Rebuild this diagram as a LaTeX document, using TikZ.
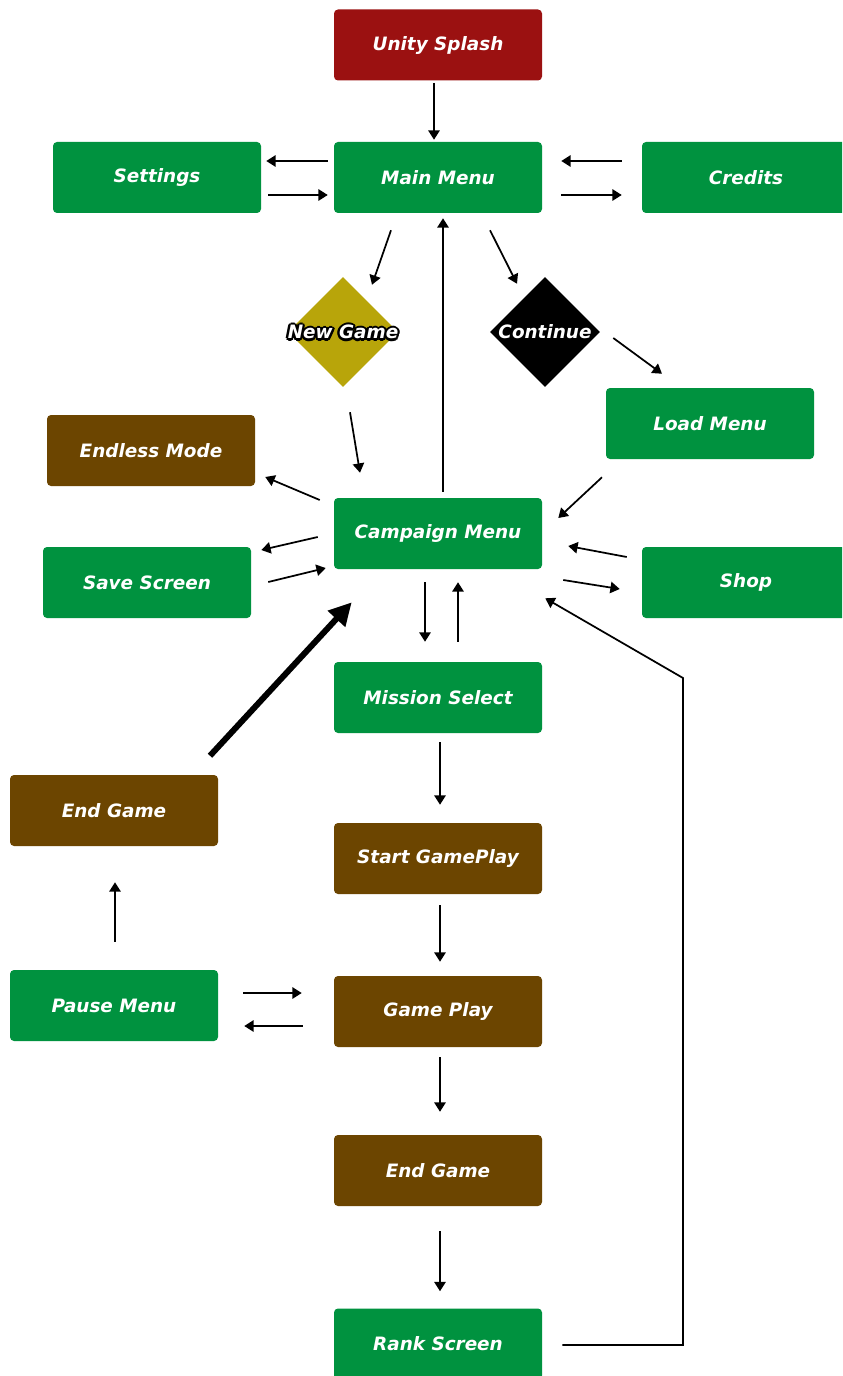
\documentclass[tikz,border=0pt]{standalone}
\usepackage{fontspec}
\setmainfont{DejaVu Sans}
\usetikzlibrary{shapes.geometric,arrows.meta,calc}
\definecolor{cred}{RGB}{155,17,17}
\definecolor{cgreen}{RGB}{0,146,63}
\definecolor{cbrown}{RGB}{108,69,0}
\definecolor{colive}{RGB}{184,165,10}
\tikzset{
  box/.style={rectangle, rounded corners=3pt, minimum width=156pt, minimum height=53.25pt, inner sep=0pt, text=white, font=\fontsize{13.8}{16}\selectfont\bfseries\itshape},
  gbox/.style={box, fill=cgreen},
  bbox/.style={box, fill=cbrown},
  rbox/.style={box, fill=cred},
  dia/.style={diamond, minimum width=82.5pt, minimum height=82.5pt, inner sep=0pt},
  lbl/.style={font=\fontsize{13.8}{16}\selectfont\bfseries\itshape, inner sep=0pt},
  arr/.style={line width=1.3pt, -{Triangle[length=7pt,width=8.5pt]}},
  thickarr/.style={line width=4.5pt, -{Triangle[length=17pt,width=17pt]}}
}
\begin{document}
\begin{tikzpicture}[x=0.75pt,y=-0.75pt]
\useasboundingbox (0,0) rectangle (842,1376);
\clip (0,0) rectangle (842,1376);
\fill[white] (0,0) rectangle (842,1376);
% nodes
\node[rbox] (unity) at (438,45) {Unity Splash};
\node[gbox] (main) at (438,177.5) {Main Menu};
\node[gbox] (settings) at (157,177.5) {Settings};
\node[gbox] (credits) at (746,177.5) {Credits};
\node[dia, fill=colive] (newgame) at (343,332) {};
\node[dia, fill=black] (continue) at (545,332) {};
\node[gbox] (load) at (710,423.5) {Load Menu};
\node[bbox] (endless) at (151,450.5) {Endless Mode};
\node[gbox] (campaign) at (438,533.5) {Campaign Menu};
\node[gbox] (save) at (147,582.5) {Save Screen};
\node[gbox] (shop) at (746,582.5) {Shop};
\node[gbox] (mission) at (438,697.5) {Mission Select};
\node[bbox] (endL) at (114,810.5) {End Game};
\node[bbox] (start) at (438,858.5) {Start GamePlay};
\node[gbox] (pause) at (114,1005.5) {Pause Menu};
\node[bbox] (gameplay) at (438,1011.5) {Game Play};
\node[bbox] (endG) at (438,1170.5) {End Game};
\node[gbox] (rank) at (438,1344) {Rank Screen};
% diamond labels (outlined text)
\foreach \a in {0,45,...,315} {
  \node[lbl, text=black] (ngo\a) at ($(newgame)+(\a:2.4)$) {New Game};
}
\node[lbl, text=white] (ngtext) at (newgame) {New Game};
\node[lbl, text=white] (cotext) at (continue) {Continue};
% arrows
\draw[arr] ($(unity.south)+(-4,2)$) -- ($(main.north)+(-4,-2)$);
\draw[arr] ($(main.west)+(-6,-16.5)$) -- ($(settings.east)+(5,-16.5)$);
\draw[arr] ($(settings.east)+(7,17.5)$) -- ($(main.west)+(-6,17.5)$);
\draw[arr] ($(credits.west)+(-20,-16.5)$) -- ($(main.east)+(19,-16.5)$);
\draw[arr] ($(main.east)+(19,17.5)$) -- ($(credits.west)+(-20,17.5)$);
\draw[arr] ($(main.south)+(-47,17)$) -- ($(newgame.north)+(29,8)$);
\draw[arr] ($(main.south)+(52,17)$) -- ($(continue.north)+(-28,7)$);
\draw[arr] ($(campaign.north)+(5,-6)$) -- ($(main.south)+(5,5)$);
\draw[arr] ($(newgame.south)+(7,25)$) -- ($(campaign.north)+(-78,-25)$);
\draw[arr] ($(continue.east)+(13,6)$) -- ($(load.north)+(-48,-14)$);
\draw[arr] ($(load.south)+(-108,18)$) -- ($(campaign.east)+(16,-15.5)$);
\draw[arr] ($(campaign.west)+(-14,-33.5)$) -- ($(endless.east)+(10,26.5)$);
\draw[arr] ($(campaign.west)+(-16,3.5)$) -- ($(save.east)+(10,-32.5)$);
\draw[arr] ($(save.east)+(17,-0.5)$) -- ($(campaign.west)+(-8,34.5)$);
\draw[arr] ($(shop.west)+(-15,-25.5)$) -- ($(campaign.east)+(26,12.5)$);
\draw[arr] ($(campaign.east)+(21,46.5)$) -- ($(shop.west)+(-22,6.5)$);
\draw[arr] ($(campaign.south)+(-13,13)$) -- ($(mission.north)+(-13,-20)$);
\draw[arr] ($(mission.north)+(20,-20)$) -- ($(campaign.south)+(20,13)$);
\draw[thickarr] ($(endL.north)+(96,-19)$) -- ($(campaign.south west)+(18,33)$);
\draw[arr] ($(mission.south)+(2,9)$) -- ($(start.north)+(2,-18)$);
\draw[arr] ($(start.south)+(2,11)$) -- ($(gameplay.north)+(2,-14)$);
\draw[arr] ($(gameplay.south)+(2,10)$) -- ($(endG.north)+(2,-23)$);
\draw[arr] ($(endG.south)+(2,25)$) -- ($(rank.north)+(2,-17)$);
\coordinate (bend) at (683,678);
\draw[arr] ($(rank.east)+(20,1)$) -| (bend) -- ($(campaign.south east)+(3,29)$);
\draw[arr] ($(pause.north)+(1,-28)$) -- ($(endL.south)+(1,36)$);
\draw[arr] ($(pause.east)+(25,-12.5)$) -- ($(gameplay.west)+(-32,-18.5)$);
\draw[arr] ($(gameplay.west)+(-31,14.5)$) -- ($(pause.east)+(26,20.5)$);
\end{tikzpicture}
\end{document}
